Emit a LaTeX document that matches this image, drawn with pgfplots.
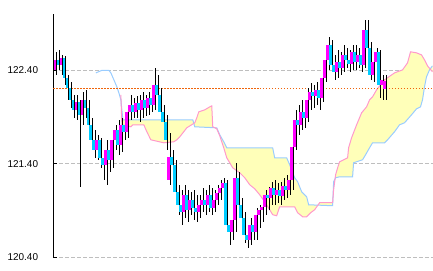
\documentclass[border=0pt]{standalone}
\usepackage{fontspec}
\setmainfont{Liberation Sans}
\usepackage{pgfplots}
\pgfplotsset{compat=1.18}
\usepackage{pgfplotstable}
\usepgfplotslibrary{fillbetween}
\definecolor{upc}{RGB}{255,0,255}
\definecolor{dnc}{RGB}{0,204,255}
\definecolor{spanA}{RGB}{153,204,255}
\definecolor{spanB}{RGB}{255,153,204}
\definecolor{cloud}{RGB}{255,255,185}
\definecolor{gridc}{RGB}{190,190,190}
\definecolor{lastc}{RGB}{240,100,10}

% rising candles (close >= open)
\pgfplotstableread{
x o h l c
55 122.403 122.596 122.350 122.510
61 122.457 122.563 122.350 122.531
76 121.976 122.136 121.870 122.062
82 121.923 122.168 121.816 122.083
97 121.550 121.710 121.443 121.656
106 121.390 121.656 121.176 121.550
112 121.443 121.742 121.357 121.656
115 121.656 121.816 121.550 121.763
121 121.603 121.891 121.528 121.816
127 121.742 122.030 121.678 121.955
130 121.955 122.136 121.870 122.030
136 121.955 122.126 121.891 122.051
142 121.976 122.168 121.891 122.083
148 121.998 122.168 121.923 122.105
154 122.030 122.425 121.976 122.243
169 121.229 121.731 121.176 121.475
184 120.888 121.176 120.824 121.069
190 120.909 121.101 120.856 121.016
199 120.888 121.069 120.824 120.962
202 120.962 121.144 120.888 121.016
208 120.962 121.176 120.888 121.069
214 120.930 121.123 120.888 121.016
217 121.016 121.176 120.962 121.091
220 121.091 121.229 121.016 121.144
223 121.144 121.251 121.069 121.197
232 120.674 120.856 120.589 120.802
235 120.802 121.411 120.674 121.251
250 120.589 120.824 120.536 120.749
256 120.674 120.930 120.589 120.856
259 120.856 120.962 120.718 120.909
262 120.909 121.016 120.781 120.941
265 120.941 121.123 120.856 121.069
271 121.037 121.208 120.962 121.144
277 121.069 121.197 120.984 121.123
283 121.059 121.251 121.016 121.165
289 121.123 121.315 121.069 121.229
292 121.229 121.656 121.123 121.582
295 121.582 121.976 121.550 121.870
301 121.816 122.083 121.763 121.955
307 121.891 122.211 121.848 122.083
310 122.083 122.265 121.976 122.168
316 122.126 122.275 122.030 122.190
322 122.105 122.403 122.062 122.318
325 122.318 122.617 122.275 122.510
328 122.510 122.756 122.403 122.670
337 122.382 122.617 122.318 122.489
343 122.425 122.670 122.382 122.563
352 122.467 122.670 122.403 122.596
358 122.489 122.638 122.425 122.563
364 122.457 122.937 122.425 122.830
373 122.350 122.563 122.275 122.489
376 122.489 122.638 122.297 122.596
382 122.243 122.350 122.083 122.297
385 122.200 122.350 122.083 122.286
}\upcandles

% falling candles (close < open)
\pgfplotstableread{
x o h l c
58 122.510 122.617 122.403 122.457
64 122.531 122.553 122.243 122.318
67 122.318 122.350 122.083 122.211
70 122.211 122.275 121.998 122.083
73 122.083 122.136 121.891 121.976
79 122.062 122.083 121.155 121.923
85 122.083 122.190 121.891 121.998
88 121.998 122.083 121.742 121.816
91 121.816 121.891 121.550 121.656
94 121.656 121.763 121.464 121.550
100 121.656 121.678 121.357 121.464
103 121.464 121.550 121.229 121.390
109 121.550 121.624 121.315 121.443
118 121.763 121.870 121.496 121.603
124 121.816 121.923 121.656 121.742
133 122.030 122.105 121.891 121.955
139 122.051 122.136 121.848 121.976
145 122.083 122.136 121.912 121.998
151 122.105 122.211 121.955 122.030
157 122.243 122.350 122.083 122.136
160 122.136 122.211 121.870 121.955
163 121.955 122.030 121.710 121.848
166 121.848 121.923 121.550 121.656
172 121.475 121.550 121.283 121.390
175 121.390 121.443 121.016 121.101
178 121.101 121.176 120.856 120.962
181 120.962 121.123 120.749 120.888
187 121.069 121.123 120.781 120.909
193 121.016 121.123 120.802 120.930
196 120.930 121.069 120.781 120.888
205 121.016 121.123 120.856 120.962
211 121.069 121.144 120.856 120.930
226 121.197 121.229 120.696 120.749
229 120.749 120.802 120.536 120.674
238 121.251 121.315 120.888 120.962
241 120.962 121.037 120.749 120.824
244 120.824 120.888 120.557 120.642
247 120.642 120.718 120.504 120.589
253 120.749 120.856 120.589 120.674
268 121.069 121.155 120.909 121.037
274 121.144 121.229 120.962 121.069
280 121.123 121.208 120.962 121.059
286 121.165 121.283 121.037 121.123
298 121.870 122.030 121.710 121.816
304 121.955 122.083 121.784 121.891
313 122.168 122.243 121.998 122.126
319 122.190 122.243 121.976 122.105
331 122.670 122.724 122.382 122.457
334 122.457 122.563 122.297 122.382
340 122.489 122.596 122.350 122.425
346 122.563 122.638 122.425 122.510
349 122.510 122.617 122.382 122.467
355 122.596 122.670 122.403 122.489
361 122.563 122.617 122.382 122.457
367 122.830 122.937 122.563 122.638
370 122.638 122.702 122.297 122.350
379 122.596 122.617 122.105 122.243
}\dncandles

\begin{document}
\begin{tikzpicture}
\begin{axis}[
  at={(0,0)}, anchor=south west,
  set layers,
  width=379.7bp, height=243.7bp, scale only axis,
  xmin=53.3, xmax=433, ymin=120.4, ymax=123.0,
  hide x axis, axis y line*=left,
  y axis line style={black, line width=1bp},
  ytick={120.4,121.4,122.4},
  ytick align=inside, major tick length=4bp,
  ytick style={black, line width=1bp},
  yticklabel style={font=\fontsize{10}{12}\selectfont, anchor=east, inner sep=0pt, xshift=-15bp,
    /pgf/number format/.cd, fixed, fixed zerofill, precision=2, assume math mode=true},
  ymajorgrids, major grid style={gridc, dash pattern=on 4bp off 2bp, line width=1bp},
]
% leading span (light blue), part before the cloud
\addplot[spanA, line width=1bp] coordinates {
(96,122.371) (102,122.398) (109,122.398) (111,122.371) (114,122.297) (117,122.222)
(119,122.158) (121,122.083)
};
% leading span (light blue), cloud part
\addplot[spanA, line width=1bp, name path=A] coordinates {
(121,122.083) (122,121.976) (123,121.870) (193,121.870) (195,121.795)
(217,121.784) (220,121.710) (224,121.635) (227,121.571) (273,121.571) (275,121.464)
(287,121.464) (290,121.390) (295,121.251) (298,121.208) (302,121.101) (307,121.048)
(309,120.962) (333,120.952) (334,121.208) (336,121.251) (340,121.261) (353,121.261)
(354,121.411) (363,121.443) (366,121.496) (370,121.571) (373,121.624) (385,121.624)
(388,121.656) (395,121.742) (400,121.816) (405,121.838) (412,121.923) (417,121.987)
(421,122.008) (423,122.083) (425,122.222) (427,122.329) (430,122.403) (433,122.446)
};
% leading span (pink)
\addplot[spanB, line width=1bp, name path=B] coordinates {
(121,122.137) (122,121.816) (131,121.795) (133,121.816) (144,121.816) (147,121.742)
(151,121.656) (164,121.624) (174,121.635) (177,121.656) (180,121.688) (187,121.784)
(195,121.838) (197,121.891) (199,121.955) (205,121.976) (210,122.008) (212,122.019)
(213,121.795) (217,121.774) (220,121.699) (224,121.571) (227,121.464) (230,121.411)
(233,121.357) (240,121.304) (245,121.251) (250,121.176) (255,121.133) (260,121.069)
(265,120.995) (270,120.909) (273,120.856) (277,120.845) (280,120.941) (295,120.941)
(298,120.877) (303,120.834) (307,120.834) (311,120.877) (315,120.909) (320,120.984)
(333,120.984) (334,121.123) (336,121.283) (338,121.357) (340,121.421) (348,121.464)
(349,121.571) (352,121.678) (357,121.816) (362,121.944) (367,122.008) (370,122.083)
(373,122.115) (377,122.190) (385,122.297) (395,122.371) (403,122.403) (408,122.478)
(411,122.596) (417,122.585) (422,122.563) (425,122.510) (428,122.446) (433,122.382)
};
\addplot[draw=none, fill=cloud] fill between[of=A and B];
% last price
\addplot[lastc, line width=1bp, dash pattern=on 1.5bp off 1.5bp] coordinates {(53.3,122.2) (433,122.2)};
% wicks
\addplot[draw=none, mark=none, error bars/.cd, y dir=plus, y explicit, error mark=none,
  error bar style={draw=black, line width=1bp}]
  table[x expr=\thisrow{x}+1.6, y=l, y error expr=\thisrow{h}-\thisrow{l}] {\upcandles};
\addplot[draw=none, mark=none, error bars/.cd, y dir=plus, y explicit, error mark=none,
  error bar style={draw=black, line width=1bp}]
  table[x expr=\thisrow{x}+1.6, y=l, y error expr=\thisrow{h}-\thisrow{l}] {\dncandles};
% bodies
\addplot[draw=none, mark=none, error bars/.cd, y dir=plus, y explicit, error mark=none,
  error bar style={draw=upc, line width=2.8bp}]
  table[x=x, y=o, y error expr=\thisrow{c}-\thisrow{o}] {\upcandles};
\addplot[draw=none, mark=none, error bars/.cd, y dir=plus, y explicit, error mark=none,
  error bar style={draw=dnc, line width=2.8bp}]
  table[x=x, y=c, y error expr=\thisrow{o}-\thisrow{c}] {\dncandles};
\end{axis}
\path (-53.3bp,-13.3bp) rectangle (379.7bp,257.7bp);
\end{tikzpicture}
\end{document}
